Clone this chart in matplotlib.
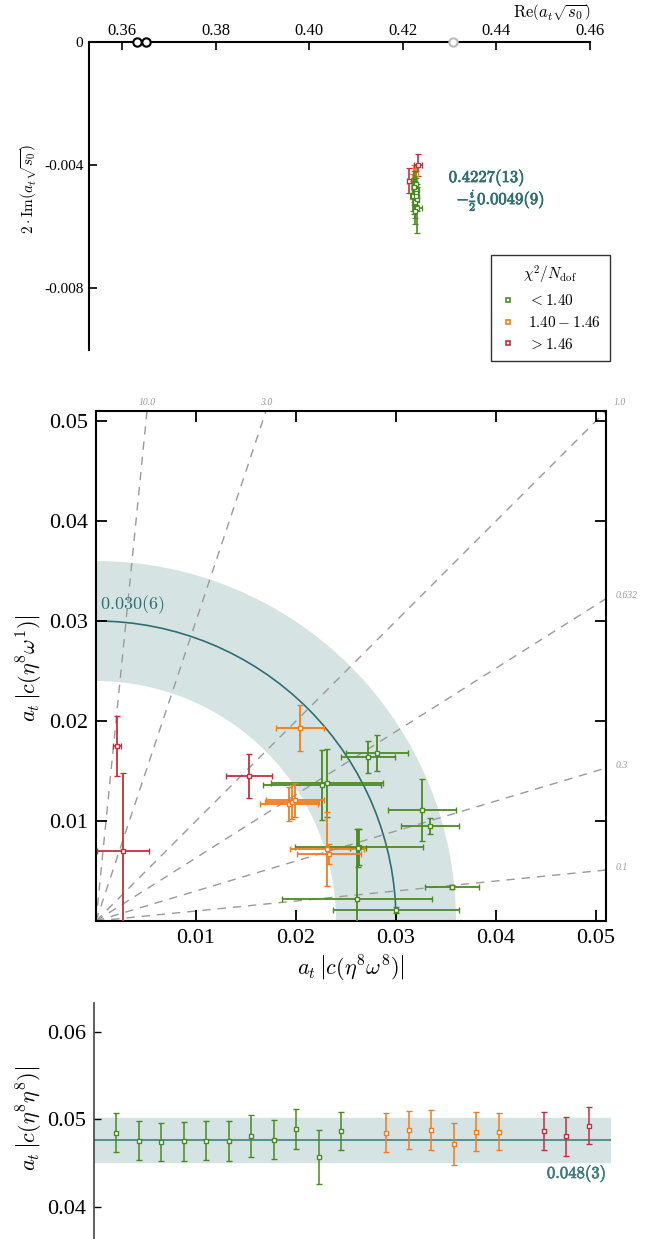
import numpy as np
import matplotlib
matplotlib.use("Agg")
import matplotlib.pyplot as plt
import matplotlib.patheffects as pe
from matplotlib.patches import Wedge, Arc
from matplotlib.lines import Line2D

plt.rcParams['font.family'] = ['Liberation Serif', 'DejaVu Serif']
plt.rcParams['mathtext.fontset'] = 'cm'

GREEN = '#4b8a22'
ORANGE = '#f57b1c'
RED = '#c52f3d'
TEAL = '#2e6e72'
BAND = '#d5e4e3'
RAY = '#9a9a9a'

# ---- pole positions (top panel) ----
green_re = [0.4226, 0.4229, 0.4224, 0.4231, 0.4227, 0.4222, 0.4228, 0.4230, 0.4225, 0.4223, 0.4229]
green_re_err = [0.0004, 0.0005, 0.0003, 0.0009, 0.0004, 0.0006, 0.0004, 0.0005, 0.0003, 0.0004, 0.0006]
green_im = [-0.0052, -0.0048, -0.0050, -0.0054, -0.0046, -0.0050, -0.0049, -0.0051, -0.0055, -0.0047, -0.0050]
green_im_err = [0.0005, 0.0004, 0.0006, 0.0008, 0.0004, 0.0005, 0.0003, 0.0004, 0.0004, 0.0005, 0.0003]
orange_re = [0.4224, 0.4226, 0.4222, 0.4225, 0.4228, 0.4223]
orange_re_err = [0.0003, 0.0004, 0.0003, 0.0004, 0.0003, 0.0004]
orange_im = [-0.0044, -0.0046, -0.0047, -0.0045, -0.0043, -0.0048]
orange_im_err = [0.0004, 0.0005, 0.0004, 0.0004, 0.0003, 0.0005]
red_re = [0.4232, 0.4213, 0.4226]
red_re_err = [0.0009, 0.0004, 0.0003]
red_im = [-0.0040, -0.0045, -0.0046]
red_im_err = [0.00036, 0.0004, 0.0003]

threshold_black = [0.3632, 0.3651]
threshold_gray = [0.4308]

# ---- couplings (middle panel): x = |c(eta8 omega8)|, y = |c(eta8 omega1)| ----
g_x = [0.02257, 0.0231, 0.0272, 0.02807, 0.0326, 0.0334, 0.02627, 0.02615, 0.02607, 0.02997, 0.03557]
g_xerr = [0.0059, 0.0056, 0.0027, 0.0031, 0.0034, 0.0029, 0.0064, 0.0008, 0.0075, 0.0063, 0.0027]
g_y = [0.01357, 0.01383, 0.01637, 0.01683, 0.01113, 0.00953, 0.00743, 0.0073, 0.00217, 0.00113, 0.00343]
g_yerr = [0.0035, 0.0034, 0.0016, 0.0018, 0.0031, 0.0008, 0.0018, 0.0019, 0.0070, 0.0003, 0.0002]
o_x = [0.02037, 0.01927, 0.01963, 0.0199, 0.0231, 0.0233]
o_xerr = [0.0024, 0.0029, 0.0027, 0.0029, 0.0037, 0.0032]
o_y = [0.01933, 0.01167, 0.01187, 0.01207, 0.00723, 0.00673]
o_yerr = [0.0023, 0.0017, 0.0017, 0.0017, 0.0037, 0.0010]
r_x = [0.00213, 0.0027, 0.0153]
r_xerr = [0.0004, 0.0026, 0.0023]
r_y = [0.01753, 0.00697, 0.01453]
r_yerr = [0.0030, 0.0078, 0.0022]

ratios = [10.0, 3.0, 1.0, 0.632, 0.3, 0.1]
ratio_labels = ['10.0', '3.0', '1.0', '0.632', '0.3', '0.1']
c81_mean, c81_err = 0.030, 0.006

# ---- couplings (bottom panel) ----
b_green = [0.04847, 0.04755, 0.04739, 0.04747, 0.04755, 0.04755, 0.04805, 0.04766, 0.04889, 0.04567, 0.04866]
b_green_err = [0.0022, 0.0022, 0.0022, 0.0022, 0.0022, 0.0023, 0.0024, 0.0022, 0.0023, 0.0031, 0.0022]
b_orange = [0.04847, 0.04877, 0.04877, 0.04716, 0.04858, 0.04858]
b_orange_err = [0.0022, 0.0022, 0.0023, 0.0024, 0.0022, 0.0021]
b_red = [0.04866, 0.04805, 0.04927]
b_red_err = [0.0022, 0.0022, 0.0021]
c88_mean, c88_lo, c88_hi = 0.04766, 0.04513, 0.0502

W, H = 663, 1239
fig = plt.figure(figsize=(W / 100, H / 100), dpi=100)


def px_axes(l, t, r, b):
    return fig.add_axes([l / W, 1 - b / H, (r - l) / W, (b - t) / H])


bold = [pe.withStroke(linewidth=0.5, foreground=TEAL)]
eb = dict(fmt='s', ms=3.5, mfc='white', mew=1.0, capsize=2.5, elinewidth=1.3, capthick=1.3)

# ================= top panel =================
ax1 = px_axes(89, 42, 590, 350)
ax1.set_xlim(0.3529, 0.4600)
ax1.set_ylim(-0.01, 0)
for s in ['right', 'bottom']:
    ax1.spines[s].set_visible(False)
for s in ['left', 'top']:
    ax1.spines[s].set_linewidth(1.5)
ax1.xaxis.tick_top()
ax1.set_xticks([0.36, 0.38, 0.40, 0.42, 0.44, 0.46])
ax1.set_xticklabels(['0.36', '0.38', '0.40', '0.42', '0.44', '0.46'], fontsize=12)
ax1.set_yticks([0, -0.004, -0.008])
ax1.set_yticklabels(['0', '-0.004', '-0.008'], fontsize=11)
ax1.tick_params(direction='in', length=6, width=1.2, pad=2)
ax1.tick_params(axis='y', pad=4)

eb1 = dict(fmt='s', ms=2.5, mfc='white', mew=0.9, capsize=2, elinewidth=1.2, capthick=1.2)
ax1.errorbar(green_re, green_im, xerr=green_re_err, yerr=green_im_err, color=GREEN, zorder=3, **eb1)
ax1.errorbar(orange_re, orange_im, xerr=orange_re_err, yerr=orange_im_err, color=ORANGE, zorder=2, **eb1)
ax1.errorbar(red_re, red_im, xerr=red_re_err, yerr=red_im_err, color=RED, zorder=2, **eb1)
ax1.plot(threshold_black, [0] * len(threshold_black), 'o', ms=6, mfc='white', mec='black', mew=1.5,
         clip_on=False, zorder=5)
ax1.plot(threshold_gray, [0] * len(threshold_gray), 'o', ms=6, mfc='white', mec='#bbbbbb', mew=1.5,
         clip_on=False, zorder=5)

ax1.text(0.4298, -0.0044, r'$\mathbf{0.4227(13)}$', color=TEAL, fontsize=12, va='center', ha='left',
         path_effects=bold)
ax1.text(0.4314, -0.00515, r'$-\frac{i}{2}\mathbf{0.0049(9)}$', color=TEAL, fontsize=12, va='center',
         ha='left', path_effects=bold)
fig.text(590 / W, 1 - 12 / H, r'$\mathrm{Re}\left(a_t\sqrt{s_0}\right)$', fontsize=12, ha='right', va='center')
fig.text(28 / W, 1 - 189 / H, r'$2\cdot\mathrm{Im}\left(a_t\sqrt{s_0}\right)$', fontsize=11,
         rotation=90, ha='center', va='center')

handles = [Line2D([], [], ls='none', marker='s', ms=3.5, mfc='white', mec=c, mew=1.2)
           for c in (GREEN, ORANGE, RED)]
leg = fig.legend(handles, [r'$<1.40$', r'$1.40-1.46$', r'$>1.46$'], title=r'$\chi^2/N_{\rm dof}$',
                 loc='upper left', bbox_to_anchor=(491 / W, 1 - 255 / H), borderaxespad=0, fontsize=11,
                 title_fontsize=11, frameon=True, fancybox=False, edgecolor='black',
                 handlelength=1.0, handletextpad=0.8, borderpad=0.6, labelspacing=0.45)
leg.get_frame().set_linewidth(1.0)

# ================= middle panel =================
lim = 0.051
ax2 = px_axes(96, 411, 606, 921)
ax2.set_xlim(0, lim)
ax2.set_ylim(0, lim)
for s in ax2.spines.values():
    s.set_linewidth(1.5)
ticks = [0.01, 0.02, 0.03, 0.04, 0.05]
ax2.set_xticks(ticks)
ax2.set_yticks(ticks)
ax2.set_xticklabels(['0.01', '0.02', '0.03', '0.04', '0.05'], fontsize=16)
ax2.set_yticklabels(['0.01', '0.02', '0.03', '0.04', '0.05'], fontsize=16)
ax2.tick_params(direction='in', length=8, width=1.3, top=True, right=True, pad=6)

ax2.add_patch(Wedge((0, 0), c81_mean + c81_err, 0, 90, width=2 * c81_err, facecolor=BAND,
                    edgecolor='none', zorder=0))
ax2.add_patch(Arc((0, 0), 2 * c81_mean, 2 * c81_mean, theta1=0, theta2=90, color=TEAL, lw=1.2, zorder=1))
ax2.text(0.0004, 0.0316, r'$0.030(6)$', color=TEAL, fontsize=13, ha='left', va='center')

for r, lab in zip(ratios, ratio_labels):
    if r >= 1:
        xe, ye = lim / r, lim
    else:
        xe, ye = lim, lim * r
    ax2.plot([0, xe], [0, ye], color=RAY, lw=1.0, dashes=(6, 5), zorder=1)
    if r > 1:
        ax2.text(xe, ye + 0.0004, lab, fontsize=7, style='italic', color=RAY, ha='center', va='bottom')
    elif r == 1:
        ax2.text(xe + 0.0008, ye + 0.0004, lab, fontsize=7, style='italic', color=RAY, ha='left', va='bottom')
    else:
        ax2.text(xe + 0.0010, ye + 0.0003, lab, fontsize=7, style='italic', color=RAY, ha='left', va='center',
                 clip_on=False)

ax2.errorbar(g_x, g_y, xerr=g_xerr, yerr=g_yerr, color=GREEN, zorder=3, **eb)
ax2.errorbar(o_x, o_y, xerr=o_xerr, yerr=o_yerr, color=ORANGE, zorder=3, **eb)
ax2.errorbar(r_x, r_y, xerr=r_xerr, yerr=r_yerr, color=RED, zorder=3, **eb)

ax2.set_xlabel(r'$a_t\,\left|c(\eta^{\mathbf{8}}\omega^{\mathbf{8}})\right|$', fontsize=16, labelpad=4)
fig.text(30 / W, 1 - 668 / H, r'$a_t\,\left|c(\eta^{\mathbf{8}}\omega^{\mathbf{1}})\right|$', fontsize=16,
         rotation=90, ha='center', va='center')

# ================= bottom panel =================
ax3 = px_axes(94, 1003, 611, 1239)
ax3.set_xlim(-1, 22)
ax3.set_ylim(0.0363, 0.0633)
for s in ['right', 'top', 'bottom']:
    ax3.spines[s].set_visible(False)
ax3.spines['left'].set_linewidth(1.2)
ax3.spines['left'].set_color('#444444')
ax3.set_xticks([])
ax3.set_yticks([0.04, 0.05, 0.06])
ax3.set_yticklabels(['0.04', '0.05', '0.06'], fontsize=16)
ax3.tick_params(axis='y', direction='in', length=5, width=1.0, pad=6)

ax3.axhspan(c88_lo, c88_hi, color=BAND, zorder=0)
ax3.axhline(c88_mean, color='#5b9193', lw=1.5, zorder=1)
ax3.text(21.8, 0.0438, r'$\mathbf{0.048(3)}$', color='#3f7c7e', fontsize=12, ha='right', va='center',
         path_effects=[pe.withStroke(linewidth=0.5, foreground='#3f7c7e')])

xg = np.arange(len(b_green))
xo = np.arange(len(b_orange)) + len(b_green) + 1
xr = np.arange(len(b_red)) + len(b_green) + len(b_orange) + 2
eb3 = dict(fmt='s', ms=3, mfc='white', mew=1.0, capsize=2, elinewidth=1.1, capthick=1.1)
ax3.errorbar(xg, b_green, yerr=b_green_err, color=GREEN, zorder=3, **eb3)
ax3.errorbar(xo, b_orange, yerr=b_orange_err, color=ORANGE, zorder=3, **eb3)
ax3.errorbar(xr, b_red, yerr=b_red_err, color=RED, zorder=3, **eb3)
fig.text(30 / W, 1 - 1118 / H, r'$a_t\,\left|c(\eta^{\mathbf{8}}\eta^{\mathbf{8}})\right|$', fontsize=16,
         rotation=90, ha='center', va='center')

fig.savefig('out.png', dpi=100)
